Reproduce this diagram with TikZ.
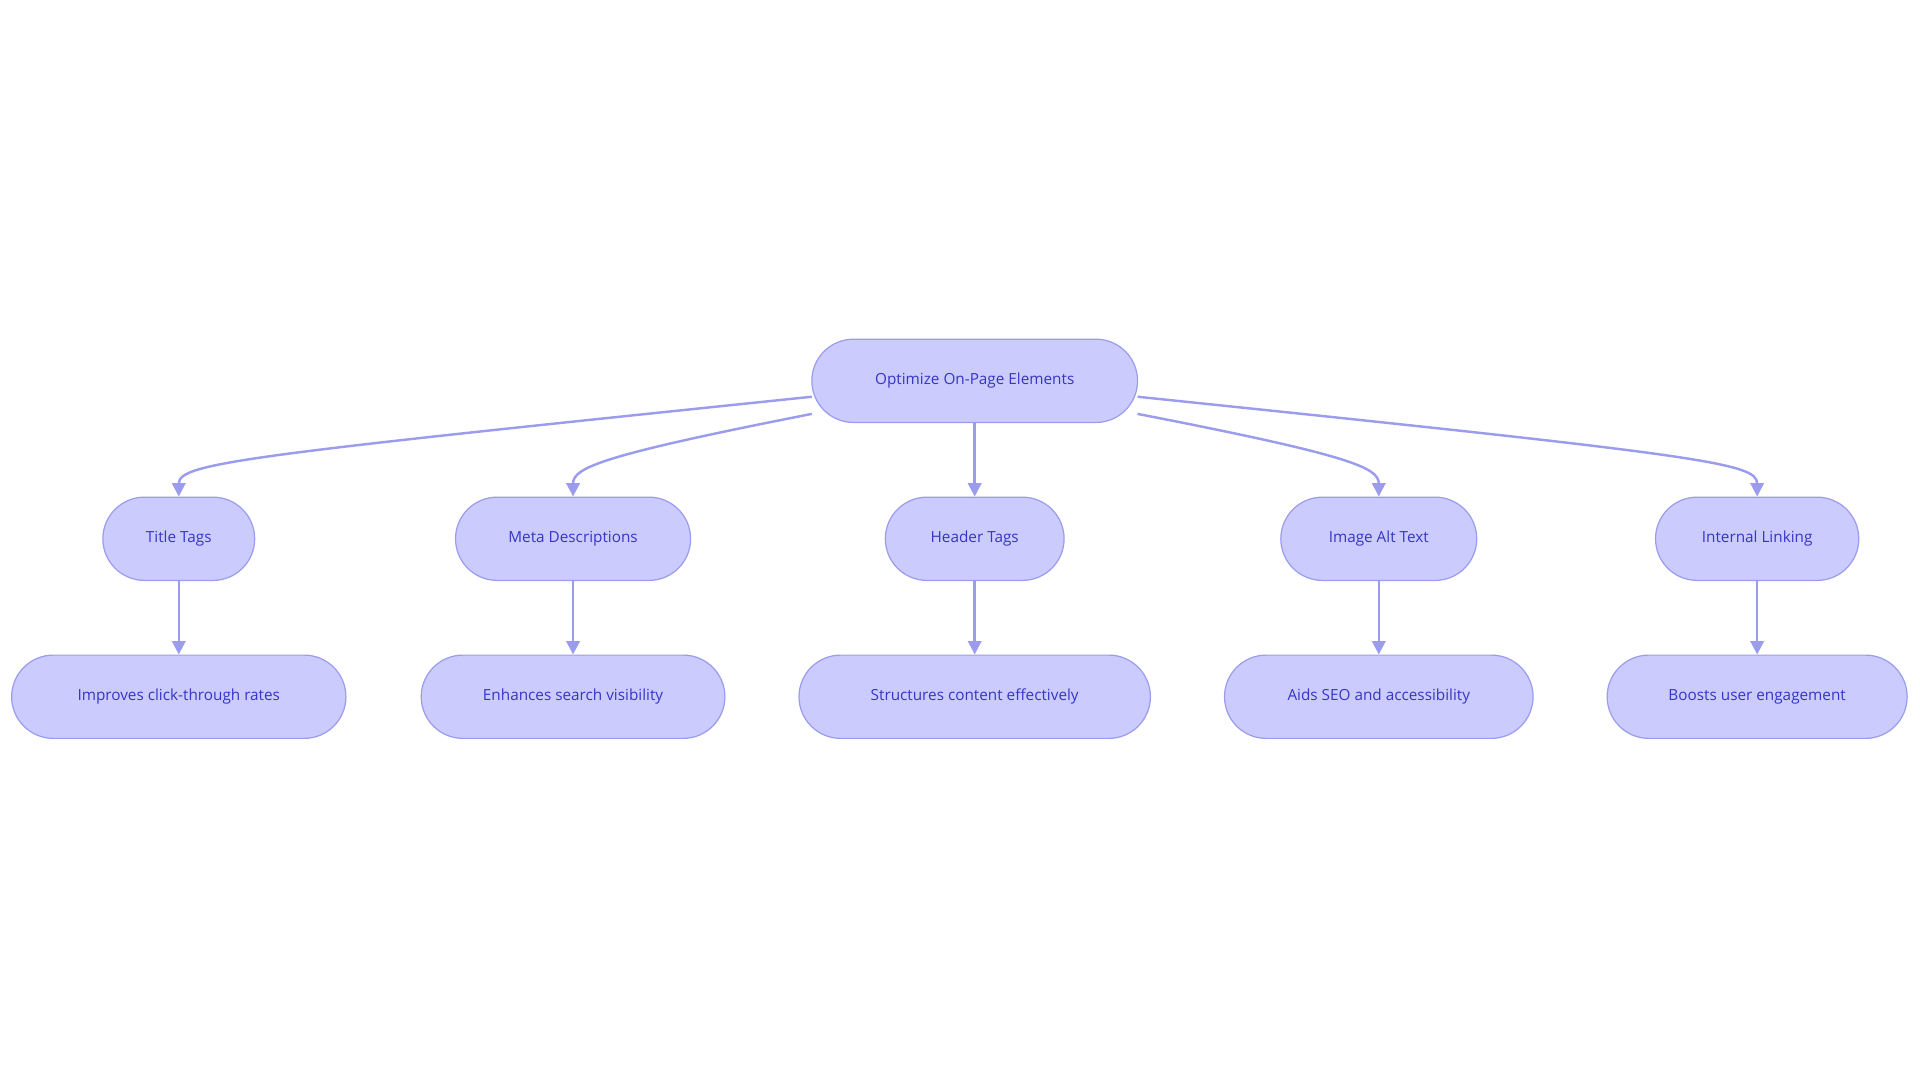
\documentclass[tikz,border=0pt]{standalone}
\usepackage{fontspec}
\setmainfont{Open Sans}
\usetikzlibrary{arrows.meta}
\definecolor{nfill}{HTML}{CBCBFD}
\definecolor{ndraw}{HTML}{9C9CEE}
\definecolor{ntext}{HTML}{3535C8}
\begin{document}
\begin{tikzpicture}[x=1pt,y=-1pt,
  box/.style={draw=ndraw,fill=nfill,rounded corners=34pt,minimum height=68pt,line width=1pt,text=ntext,font=\fontsize{12.5}{15}\selectfont,inner sep=0pt},
  conn/.style={draw=ndraw,line width=2pt,-{Triangle[length=11pt,width=11pt]}}]
\useasboundingbox (0,0) rectangle (1568,884);
\node[box,minimum width=266pt] (root) at (796,311) {Optimize On-Page Elements};
\node[box,minimum width=124pt] (t) at (146,440) {Title Tags};
\node[box,minimum width=192pt] (m) at (468,440) {Meta Descriptions};
\node[box,minimum width=146pt] (h) at (796,440) {Header Tags};
\node[box,minimum width=160pt] (i) at (1126,440) {Image Alt Text};
\node[box,minimum width=166pt] (l) at (1435,440) {Internal Linking};
\node[box,minimum width=273pt] (t2) at (146,569) {Improves click-through rates};
\node[box,minimum width=248pt] (m2) at (468,569) {Enhances search visibility};
\node[box,minimum width=287pt] (h2) at (796,569) {Structures content effectively};
\node[box,minimum width=252pt] (i2) at (1126,569) {Aids SEO and accessibility};
\node[box,minimum width=245pt] (l2) at (1435,569) {Boosts user engagement};
\coordinate (a1) at (663,324); \coordinate (a2) at (663,338);
\coordinate (b1) at (929,324); \coordinate (b2) at (929,338);
\draw[conn] (a1) .. controls (200,372) and (146,378) .. (t.north);
\draw[conn] (a2) .. controls (490,372) and (468,382) .. (m.north);
\draw[conn] (root) -- (h);
\draw[conn] (b2) .. controls (1104,372) and (1126,382) .. (i.north);
\draw[conn] (b1) .. controls (1392,372) and (1435,378) .. (l.north);
\draw[conn] (t) -- (t2);
\draw[conn] (m) -- (m2);
\draw[conn] (h) -- (h2);
\draw[conn] (i) -- (i2);
\draw[conn] (l) -- (l2);
\end{tikzpicture}
\end{document}
